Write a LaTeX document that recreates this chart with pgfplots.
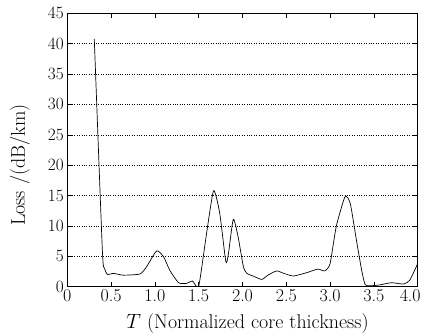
\documentclass[border=0pt]{standalone}
\usepackage{pgfplots}
\pgfplotsset{compat=1.18}
\begin{document}
\begin{tikzpicture}
\begin{axis}[
  scale only axis,
  width=350.4bp, height=273.4bp,
  xmin=0, xmax=4, ymin=0, ymax=45,
  xtick={0,0.5,1,1.5,2,2.5,3,3.5,4},
  xticklabels={0,0.5,1.0,1.5,2.0,2.5,3.0,3.5,{\makebox[0pt][r]{4.0\kern-3bp}}},
  ytick={0,5,...,45},
  tick align=inside,
  tick style={black, line width=0.6pt},
  major tick length=5pt,
  ymajorgrids,
  grid style={black, dotted, line width=0.6pt},
  axis line style={line width=0.6pt},
  tick label style={font=\fontsize{18}{20}\selectfont},
  label style={font=\fontsize{20}{22}\selectfont},
  xlabel={$T$ (Normalized core thickness)},
  ylabel={Loss /(dB/km)},
  xlabel style={at={([xshift=5bp,yshift=-41.3bp]axis description cs:0.5,0)}, anchor=base},
  ylabel style={at={([xshift=-42.3bp,yshift=-15bp]axis description cs:0,0.5)}, anchor=base},
  xticklabel style={yshift=1pt},
]
\addplot[black, line width=0.7pt, smooth, tension=0.35] coordinates {
(0.308,40.8) (0.40,6.0) (0.425,3.0) (0.46,2.0) (0.525,2.2) (0.64,1.9) (0.83,2.1)
(0.906,3.3) (1.02,5.9) (1.10,4.9) (1.17,2.7) (1.27,0.66) (1.36,0.55) (1.43,0.93)
(1.50,0.1) (1.59,8.8) (1.67,15.8) (1.74,12.1) (1.81,4.1) (1.84,5.5) (1.895,11.1)
(1.95,8.2) (2.01,3.3) (2.05,2.2) (2.12,1.76) (2.22,1.2) (2.29,1.9) (2.39,2.6)
(2.47,2.2) (2.58,1.76) (2.73,2.3) (2.86,2.9) (2.94,2.6) (3.0,3.8) (3.07,9.9)
(3.17,14.8) (3.23,13.7) (3.30,7.7) (3.36,2.7) (3.40,0.35) (3.455,0.15) (3.57,0.3)
(3.70,0.66) (3.84,0.44) (3.91,1.1) (4.0,3.8)
};
\end{axis}
\pgfresetboundingbox
\path ([shift={(-67.3bp,-47.3bp)}]current axis.south west) rectangle ([shift={(7.3bp,13.3bp)}]current axis.north east);
\end{tikzpicture}
\end{document}
